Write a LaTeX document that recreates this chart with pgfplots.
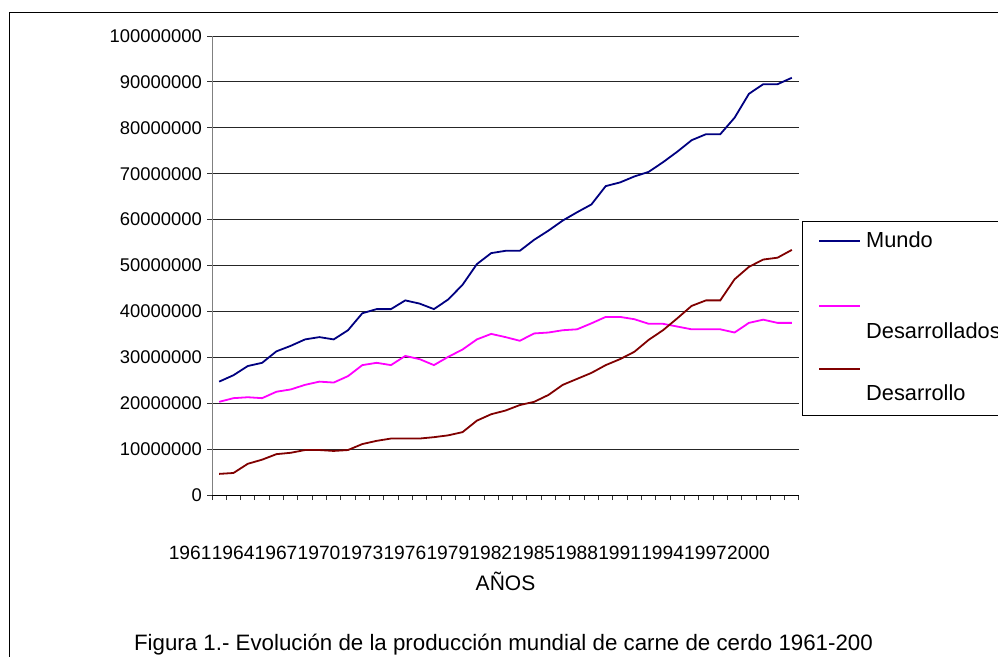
\documentclass[border=0pt]{standalone}
\usepackage{fontspec}
\setmainfont{Liberation Sans}
\usepackage{pgfplots}
\usepackage{pgfplotstable}
\pgfplotsset{compat=1.18}
\definecolor{mundo}{RGB}{0,0,128}
\definecolor{desa}{RGB}{255,0,255}
\definecolor{desr}{RGB}{128,0,0}
\pgfplotstableread{
year mundo desarrollados desarrollo
1961 24700000 20300000 4600000
1962 26100000 21100000 4800000
1963 28100000 21300000 6800000
1964 28800000 21100000 7700000
1965 31300000 22500000 8900000
1966 32500000 23000000 9200000
1967 33900000 24000000 9800000
1968 34400000 24700000 9800000
1969 33900000 24500000 9600000
1970 35900000 25900000 9800000
1971 39600000 28300000 11100000
1972 40500000 28800000 11800000
1973 40500000 28300000 12300000
1974 42400000 30300000 12300000
1975 41700000 29600000 12300000
1976 40500000 28300000 12600000
1977 42600000 30100000 13000000
1978 45800000 31700000 13700000
1979 50300000 33900000 16200000
1980 52700000 35100000 17600000
1981 53200000 34400000 18400000
1982 53200000 33600000 19600000
1983 55600000 35200000 20300000
1984 57600000 35400000 21800000
1985 59800000 35900000 24000000
1986 61600000 36100000 25300000
1987 63300000 37400000 26600000
1988 67300000 38800000 28300000
1989 68100000 38800000 29600000
1990 69400000 38300000 31200000
1991 70400000 37300000 33800000
1992 72500000 37300000 35900000
1993 74800000 36700000 38500000
1994 77300000 36100000 41200000
1995 78600000 36100000 42400000
1996 78600000 36100000 42400000
1997 82200000 35400000 47000000
1998 87400000 37500000 49700000
1999 89500000 38200000 51300000
2000 89500000 37500000 51700000
2001 90900000 37500000 53400000
}\datatable
\begin{document}
\begin{tikzpicture}
\path[use as bounding box] (0pt,0pt) rectangle (998pt,-656pt);
\clip (0pt,0pt) rectangle (998pt,-656pt);
\draw[black, line width=1pt] (9pt,-700pt) -- (9pt,-12pt) -- (1100pt,-12pt);
\begin{axis}[
  at={(212pt,-495pt)}, anchor=south west,
  scale only axis, width=587pt, height=459pt,
  xmin=1960.5, xmax=2001.5, ymin=0, ymax=100000000,
  axis x line*=bottom, axis y line*=left,
  x axis line style={black, line width=1pt, -},
  y axis line style={gray, line width=1pt, -},
  ytick={0,10000000,20000000,30000000,40000000,50000000,60000000,70000000,80000000,90000000,100000000},
  yticklabels={0,10000000,20000000,30000000,40000000,50000000,60000000,70000000,80000000,90000000,100000000},
  scaled y ticks=false,
  ymajorgrids, grid style={black!85, line width=1pt},
  xtick={1960.5,1961.5,...,2001.5},
  xticklabels={},
  extra x ticks={1961,1964,1967,1970,1973,1976,1979,1982,1985,1988,1991,1994,1997,2000},
  extra x tick labels={1961,1964,1967,1970,1973,1976,1979,1982,1985,1988,1991,1994,1997,2000},
  extra x tick style={major tick length=0pt, grid=none,
     xticklabel style={anchor=base, inner sep=0pt, xshift=-29pt, yshift=-64pt, font=\fontsize{19.2pt}{23pt}\selectfont}},
  tick align=outside, major tick length=5pt,
  tick style={black!80, line width=1pt},
  /pgf/number format/assume math mode=true,
  tick label style={font=\fontsize{18.4pt}{22pt}\selectfont},
  yticklabel style={anchor=east, inner sep=0pt, xshift=-5pt},
  clip=false,
  xlabel={AÑOS},
  xlabel style={at={(axis description cs:0.5,0)}, anchor=base, inner sep=0pt, yshift=-95pt, font=\fontsize{21pt}{25pt}\selectfont},
]
\addplot[mundo, line width=1.8pt] table[x=year, y=mundo] {\datatable};
\addplot[desa, line width=1.8pt] table[x=year, y=desarrollados] {\datatable};
\addplot[desr, line width=1.8pt] table[x=year, y=desarrollo] {\datatable};
\end{axis}
% legend
\draw[black, line width=1pt, fill=white] (802pt,-221pt) rectangle (1100pt,-415pt);
\draw[mundo, line width=1.8pt] (819pt,-241pt) -- (860pt,-241pt);
\draw[desa, line width=1.8pt] (819pt,-305.7pt) -- (860pt,-305.7pt);
\draw[desr, line width=1.8pt] (819pt,-368.7pt) -- (860pt,-368.7pt);
\begin{scope}[every node/.style={anchor=base west, inner sep=0pt, font=\fontsize{21.8pt}{26pt}\selectfont}]
\node at (866pt,-247pt) {Mundo};
\node at (866pt,-338pt) {Desarrollados};
\node at (866pt,-400.7pt) {Desarrollo};
\end{scope}
\node[anchor=base, inner sep=0pt, font=\fontsize{22.3pt}{26pt}\selectfont] at (503.5pt,-650.7pt) {Figura 1.- Evolución de la producción mundial de carne de cerdo 1961-200};
\end{tikzpicture}
\end{document}
